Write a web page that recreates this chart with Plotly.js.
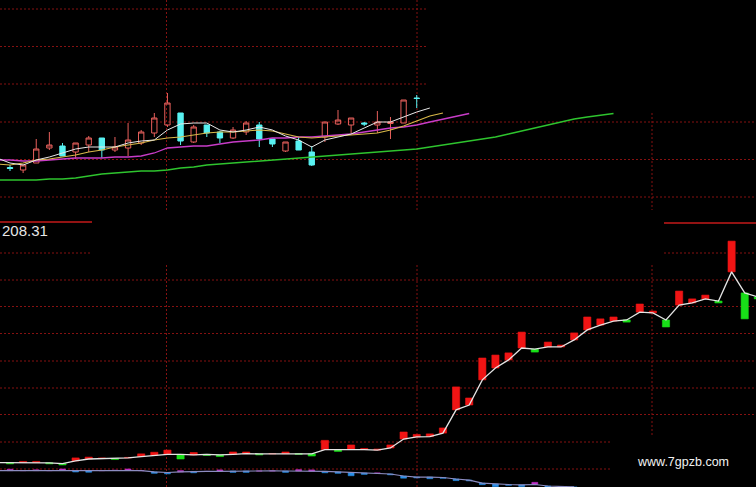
<!DOCTYPE html>
<html>
<head>
<meta charset="utf-8">
<script src="https://cdn.plot.ly/plotly-3.0.1.min.js"></script>
<style>html,body{margin:0;padding:0;background:#000;}#chart{width:756px;height:487px;}</style>
</head>
<body>
<div id="chart"></div>
<script>
// ---- Upper panel: daily candles (index 0..31) ----
const candleOpen  = [213.25,213.0,213.7,215.2,215.4,214.8,215.5,216.2,215.0,215.2,215.7,216.7,217.5,218.7,215.8,217.5,216.8,216.2,216.8,217.5,216.1,214.9,215.9,214.8,216.3,217.6,217.5,217.7,217.5,217.65,217.7,220.2];
const candleHigh  = [213.5,213.5,216.1,216.8,215.7,215.7,216.4,216.2,216.3,217.7,217.0,218.7,220.7,218.7,217.5,217.5,216.9,217.3,217.9,217.8,216.1,215.8,216.3,215.4,217.8,219.0,218.2,217.8,218.9,218.3,220.0,220.5];
const candleLow   = [212.9,212.7,213.7,215.0,214.4,214.1,214.8,214.2,214.8,214.4,215.5,216.3,217.3,215.5,215.7,216.3,215.7,216.1,216.5,215.3,215.3,214.8,215.0,213.4,215.8,217.5,216.7,217.4,216.7,216.1,217.7,219.2];
const candleClose = [213.15,213.5,215.1,215.5,214.4,215.7,216.2,215.0,215.3,216.0,216.8,218.2,219.7,215.9,217.3,216.7,216.2,217.0,217.7,216.1,215.6,215.8,215.0,213.5,217.8,218.0,218.2,217.6,217.8,217.8,220.0,220.15];

// moving averages (start at index -1)
const maWhite   = [214.2,213.7,213.5,214.0,214.3,214.7,215.1,215.3,215.3,215.3,215.7,215.9,216.0,217.0,217.6,217.7,217.7,217.0,216.8,217.0,217.3,217.0,216.4,216.0,215.3,216.0,216.3,216.6,217.2,217.8,217.8,218.3,218.8,219.2];
const maYellow  = [213.6,213.5,213.7,214.0,214.1,214.3,214.5,214.8,215.0,215.3,215.5,215.7,216.0,216.2,216.3,216.5,216.7,216.8,216.8,216.9,217.0,216.9,216.6,216.3,216.2,216.3,216.4,216.5,216.6,216.7,217.0,217.4,217.9,218.4,218.7];
const maMagenta = [214.0,214.0,213.9,213.9,214.0,214.1,214.2,214.2,214.2,214.3,214.3,214.4,214.7,215.2,215.3,215.4,215.4,215.6,215.8,215.9,216.0,216.2,216.2,216.3,216.3,216.4,216.5,216.6,216.8,217.0,217.2,217.3,217.5,217.8,218.1,218.4,218.65];
const maGreen   = [212.0,212.0,212.0,212.0,212.1,212.1,212.2,212.4,212.6,212.7,212.8,212.9,212.9,213.0,213.2,213.3,213.5,213.6,213.7,213.8,213.9,214.0,214.1,214.2,214.3,214.4,214.5,214.6,214.7,214.8,214.9,215.0,215.1,215.3,215.5,215.7,215.9,216.1,216.3,216.6,216.9,217.2,217.5,217.8,218.1,218.3,218.5,218.65];

// ---- Lower panel: line with up/down bars (index -1..57) ----
const lowOpen  = [2.4,2.4,2.4,2.4,2.3,2.0,3.0,3.7,3.9,3.9,4.1,4.6,5.1,5.4,5.4,5.2,5.4,5.2,5.4,5.7,5.6,5.6,5.7,5.7,5.6,7.2,7.2,7.4,7.2,7.0,7.8,11.1,11.9,12.0,13.3,21.9,23.7,33.0,37.4,40.4,44.8,44.4,45.2,45.2,47.8,51.5,53.3,54.8,55.2,58.1,57.8,55.2,60.7,61.5,63.0,62.2,73.0,65.2,63.7];
const lowClose = [2.4,1.9,2.8,2.8,1.9,1.5,4.1,4.4,4.1,3.5,4.3,5.6,6.2,7.0,3.7,6.1,5.0,4.6,6.3,6.3,5.2,5.7,6.3,5.4,4.8,10.6,6.5,8.9,7.6,7.4,8.9,13.7,12.8,13.0,15.2,30.4,26.3,41.1,42.2,43.0,50.7,43.3,47.0,45.9,50.4,56.3,55.6,56.3,54.4,61.1,58.5,52.6,65.9,63.0,64.4,61.5,84.4,55.6,63.0];

// ---- Bottom indicator (index -1..43) ----
const indOpen  = [-0.6,-0.6,-0.6,-0.6,-0.6,-0.5,-0.6,-0.7,-0.6,-0.5,-0.5,-0.6,-1.1,-1.3,-1.1,-0.9,-0.9,-0.85,-0.75,-0.75,-0.75,-0.7,-0.75,-0.75,-0.85,-0.9,-1.1,-1.3,-1.5,-1.5,-1.85,-2.6,-3.0,-3.0,-3.15,-3.7,-4.1,-5.2,-5.55,-5.75,-5.9,-5.75,-6.3,-6.5,-6.65];
const indClose = [-0.6,-0.1,-0.6,-0.3,-0.6,0.0,-1.1,-1.2,-0.6,-0.5,0.0,-0.6,-1.6,-1.8,-0.6,-1.4,-0.9,-0.35,-1.25,-1.25,-0.75,-0.7,-1.25,-0.25,-0.35,-1.4,-1.6,-2.5,-2.0,-1.5,-2.15,-3.4,-3.3,-3.6,-3.45,-4.3,-4.4,-5.8,-6.55,-6.05,-6.5,-4.95,-6.8,-6.8,-6.95];

const priceLabel = "208.31";
const siteLabel = "www.7gpzb.com";

// ---- layout constants (pixels) ----
const W = 756, H = 487;
const gridH = [[9,0,427],[46.5,0,427],[84,0,427],[122,0,756],[159.5,0,756],[197,0,756],
  [253,0,92],[253,664,756],[280,0,756],[306.5,0,756],[333.5,0,756],[361,0,756],[388,0,756],[414.5,0,756],[442,0,610],[469,0,610]];
const gridV = [[166.5,0,212],[166.5,265,487],[417,0,212],[417,265,487],[652,113,210],[652,265,437]];
const solidH = [[222,0,92],[223,664,756]];

function idx(start, n){ const a=[]; for(let i=0;i<n;i++) a.push(start+i); return a; }
const gridColor = 'rgba(140,18,18,0.95)';
const shapes = [];
gridH.forEach(g => shapes.push({type:'line',xref:'paper',yref:'paper',x0:g[1]/W,x1:g[2]/W,y0:1-g[0]/H,y1:1-g[0]/H,layer:'below',line:{color:gridColor,width:1,dash:'2px,2px'}}));
gridV.forEach(g => shapes.push({type:'line',xref:'paper',yref:'paper',x0:g[0]/W,x1:g[0]/W,y0:1-g[1]/H,y1:1-g[2]/H,layer:'below',line:{color:gridColor,width:1,dash:'2px,2px'}}));
solidH.forEach(g => shapes.push({type:'line',xref:'paper',yref:'paper',x0:g[1]/W,x1:g[2]/W,y0:1-g[0]/H,y1:1-g[0]/H,layer:'below',line:{color:'#c41a1a',width:1.5}}));

const traces = [];
traces.push({type:'candlestick', x: idx(0,candleOpen.length), open:candleOpen, high:candleHigh, low:candleLow, close:candleClose,
  increasing:{line:{color:'#e8605c',width:1}, fillcolor:'rgba(0,0,0,0)'},
  decreasing:{line:{color:'#58f2f2',width:1}, fillcolor:'#58f2f2'},
  whiskerwidth:0, hoverinfo:'skip', showlegend:false, xaxis:'x', yaxis:'y'});
traces.push({type:'scatter',mode:'lines',x:idx(-1,maGreen.length),y:maGreen,line:{color:'#2ec42e',width:1.5},hoverinfo:'skip',yaxis:'y'});
traces.push({type:'scatter',mode:'lines',x:idx(-1,maMagenta.length),y:maMagenta,line:{color:'#c83cc8',width:1.3},hoverinfo:'skip',yaxis:'y'});
traces.push({type:'scatter',mode:'lines',x:idx(-1,maYellow.length),y:maYellow,line:{color:'#d8b848',width:1.1},hoverinfo:'skip',yaxis:'y'});
traces.push({type:'scatter',mode:'lines',x:idx(-1,maWhite.length),y:maWhite,line:{color:'#e8e8e8',width:1},hoverinfo:'skip',yaxis:'y'});

// lower bars
const lowX = idx(-1, lowOpen.length);
traces.push({type:'bar', x:lowX, base:lowOpen, y:lowClose.map((c,i)=>c-lowOpen[i]), width:0.55,
  marker:{color:lowClose.map((c,i)=>c>=lowOpen[i]?'#f01414':'#18e018'), line:{width:0.6,color:lowClose.map((c,i)=>c>=lowOpen[i]?'#f01414':'#18e018')}},
  hoverinfo:'skip', yaxis:'y2'});
traces.push({type:'scatter',mode:'lines',x:lowX,y:lowOpen,line:{color:'#e4e4e4',width:1.3},hoverinfo:'skip',yaxis:'y2'});

// bottom indicator
const indX = idx(-1, indOpen.length);
traces.push({type:'bar', x:indX, base:indOpen, y:indClose.map((c,i)=>c-indOpen[i]), width:0.45,
  marker:{color:indClose.map((c,i)=>c>=indOpen[i]?'#c030c8':'#2a90e8'), line:{width:0.6,color:indClose.map((c,i)=>c>=indOpen[i]?'#c030c8':'#2a90e8')}},
  hoverinfo:'skip', yaxis:'y2'});
traces.push({type:'scatter',mode:'lines',x:indX,y:indOpen,line:{color:'#8c8cc0',width:1.2},hoverinfo:'skip',yaxis:'y2'});

const layout = {
  width:W, height:H, margin:{l:0,r:0,t:0,b:0,pad:0},
  paper_bgcolor:'#000', plot_bgcolor:'#000', showlegend:false,
  barmode:'overlay', boxgap:0.42,
  xaxis:{range:[-0.762,56.86], visible:false, rangeslider:{visible:false}, fixedrange:true},
  yaxis:{range:[181.3,230], visible:false, fixedrange:true, domain:[0,1]},
  yaxis2:{range:[-6.67,173.7], visible:false, overlaying:'y', fixedrange:true},
  shapes: shapes,
  annotations:[
    {xref:'paper',yref:'paper',x:0,y:1-230/H,xanchor:'left',yanchor:'middle',text:priceLabel,showarrow:false,
     font:{family:'Liberation Sans, Arial, sans-serif',size:15,color:'#e6e6e6'}},
    {xref:'paper',yref:'paper',x:683/W,y:1-462/H,xanchor:'center',yanchor:'middle',text:siteLabel,showarrow:false,
     font:{family:'Liberation Sans, Arial, sans-serif',size:12.5,color:'#f2f2f2'}}
  ]
};
Plotly.newPlot('chart', traces, layout, {displayModeBar:false, staticPlot:true});
</script>
</body>
</html>
